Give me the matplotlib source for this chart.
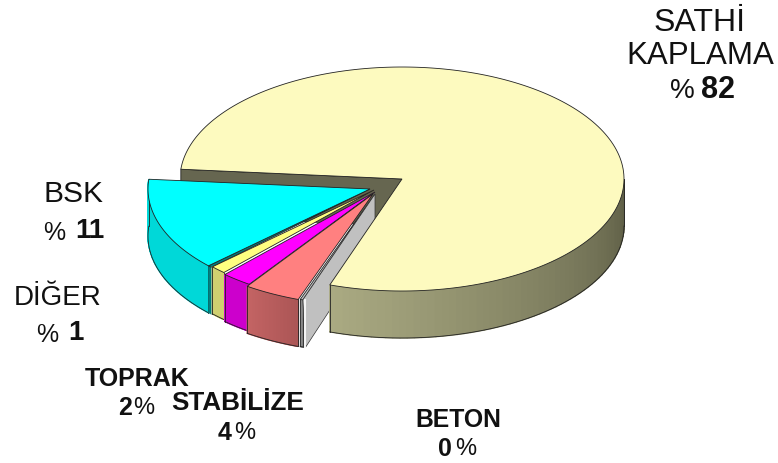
import numpy as np
import matplotlib
matplotlib.use("Agg")
import matplotlib.pyplot as plt

kaplama = ["BSK", "DİĞER", "TOPRAK", "STABİLİZE", "BETON", "SATHİ KAPLAMA"]
yuzde = [11, 1, 2, 4, 0.2, 81.8]

ust_renk = ["#00FFFF", "#FFFF80", "#FF00FF", "#FF8080", "#C0C0C0", "#FDFABF"]
yan_renk1 = ["#00D8D8", "#D0D070", "#CC00CC", "#C46464", "#F0F0F0", "#AAAA82"]
yan_renk2 = ["#00D8D8", "#D0D070", "#CC00CC", "#AC5656", "#808080", "#5E5E46"]
kayma = [(-32, 10), (-28, 11), (-27, 13), (-29, 15), (-27, 15), (0, 0)]

cx, cy = 402, 180
rx, ry = 222, 112
derinlik = 47
bas_aci = 178.7

plt.rcParams["font.family"] = ["Liberation Sans", "DejaVu Sans"]


def perspektif(t):
    # 3b pastada dilimler ekranda esit aci tutmuyor
    return t + np.degrees(0.12 * np.sin(2 * np.radians(t - 195)))


def kenar(t, ox=0, oy=0):
    r = np.radians(t)
    return cx + ox + rx * np.cos(r), cy + oy - ry * np.sin(r)


def dilim_ust(a, b, ox, oy, renk):
    t = np.linspace(a, b, 200)
    x, y = kenar(t, ox, oy)
    x = np.r_[cx + ox, x]
    y = np.r_[cy + oy, y]
    ax.fill(x, y, color=renk, ec="#222222", lw=0.6, zorder=z())


def dilim_yan(a, b, ox, oy, r1, r2):
    # yan yuzey, soldan saga renk gecisi
    t = np.linspace(a, b, 60)
    c1 = np.array(matplotlib.colors.to_rgb(r1))
    c2 = np.array(matplotlib.colors.to_rgb(r2))
    for i in range(len(t) - 1):
        x, y = kenar(np.array([t[i], t[i + 1]]), ox, oy)
        renk = c1 + (c2 - c1) * i / (len(t) - 2)
        ax.fill([x[0], x[1], x[1], x[0]],
                [y[0], y[1], y[1] + derinlik, y[0] + derinlik],
                color=renk, ec=renk, lw=1.0, zorder=z())
    tt = np.linspace(a, b, 100)
    x, y = kenar(tt, ox, oy)
    ax.plot(x, y + derinlik, color="#222222", lw=0.6, zorder=z())
    ax.plot([x[0], x[0]], [y[0], y[0] + derinlik], color="#222222", lw=0.6, zorder=z())
    ax.plot([x[-1], x[-1]], [y[-1], y[-1] + derinlik], color="#222222", lw=0.6, zorder=z())


sira = [0]


def z():
    sira[0] += 1
    return sira[0]


fig = plt.figure(figsize=(7.78, 4.64), dpi=100)
ax = fig.add_axes([0, 0, 1, 1])
ax.set_xlim(0, 778)
ax.set_ylim(464, 0)
ax.axis("off")

toplam = np.r_[0, np.cumsum(yuzde)]
acilar = perspektif(bas_aci + toplam * 3.6)

# ana dilimin arkadaki koyu duvari
ax_x, ax_y = kenar(acilar[0])
ax.fill([ax_x, cx, cx, ax_x], [ax_y, cy, cy + derinlik, ax_y + derinlik],
        color="#666650", ec="#222222", lw=0.6, zorder=z())

# disari cekilmis dilimler
for i in range(5):
    a, b = acilar[i], acilar[i + 1]
    ox, oy = kayma[i]
    dilim_yan(a, b, ox, oy, yan_renk1[i], yan_renk2[i])
    if i == 0:
        # BSK diliminin ince yan yuzu
        u = np.array([b, b + 1.1])
        x, y = kenar(u, ox, oy)
        ax.fill([x[0], x[1], x[1], x[0]], [y[0], y[1], y[1] + derinlik, y[0] + derinlik],
                color="#008080", ec="#008080", lw=0.3, zorder=z())
        dilim_ust(b, b + 1.1, ox, oy, "#008080")
    dilim_ust(a, b, ox, oy, ust_renk[i])

# BETON dilimi %0, sadece gri kesit gorunur
x, y = kenar(acilar[5], *kayma[4])
tipx, tipy = cx + kayma[4][0], cy + kayma[4][1]
ax.fill([tipx, tipx, x + 3, x], [tipy, tipy + derinlik, y + derinlik, y],
        color="#C0C0C0", ec="#333333", lw=0.5, zorder=z())
ax.plot([x + 2, x + 2], [y, y + derinlik], color="#F4F4F4", lw=1.5, zorder=z())

# ana dilim
dilim_yan(acilar[5], 360, 0, 0, yan_renk1[5], yan_renk2[5])
dilim_ust(acilar[5], acilar[0] + 360, 0, 0, ust_renk[5])

yazi = dict(ha="center", va="center", color="#111111", zorder=500)
ax.text(700, 23, "SATHİ", fontsize=23, **yazi)
ax.text(700, 56, "KAPLAMA", fontsize=22.5, **yazi)
ax.text(682, 91, "%", fontsize=20, **yazi)
ax.text(718, 90, "82", fontsize=22, fontweight="bold", **yazi)
ax.text(74, 194, "BSK", fontsize=21.5, **yazi)
ax.text(54, 233, "%", fontsize=18, **yazi)
ax.text(90, 231, "11", fontsize=20, fontweight="bold", **yazi)
ax.text(58, 298, "DİĞER", fontsize=20, **yazi)
ax.text(47, 335, "%", fontsize=18, **yazi)
ax.text(76, 333, "1", fontsize=20, fontweight="bold", **yazi)
ax.text(137, 379, "TOPRAK", fontsize=18, fontweight="bold", **yazi)
ax.text(125, 408, "2", fontsize=18, fontweight="bold", **yazi)
ax.text(144, 408, "%", fontsize=17, **yazi)
ax.text(238, 403, "STABİLİZE", fontsize=18.8, fontweight="bold", **yazi)
ax.text(225, 433, "4", fontsize=18, fontweight="bold", **yazi)
ax.text(245, 433, "%", fontsize=17, **yazi)
ax.text(458, 420, "BETON", fontsize=17.8, fontweight="bold", **yazi)
ax.text(445, 449, "0", fontsize=18, fontweight="bold", **yazi)
ax.text(466, 449, "%", fontsize=17, **yazi)

fig.savefig("out.png", dpi=100)
